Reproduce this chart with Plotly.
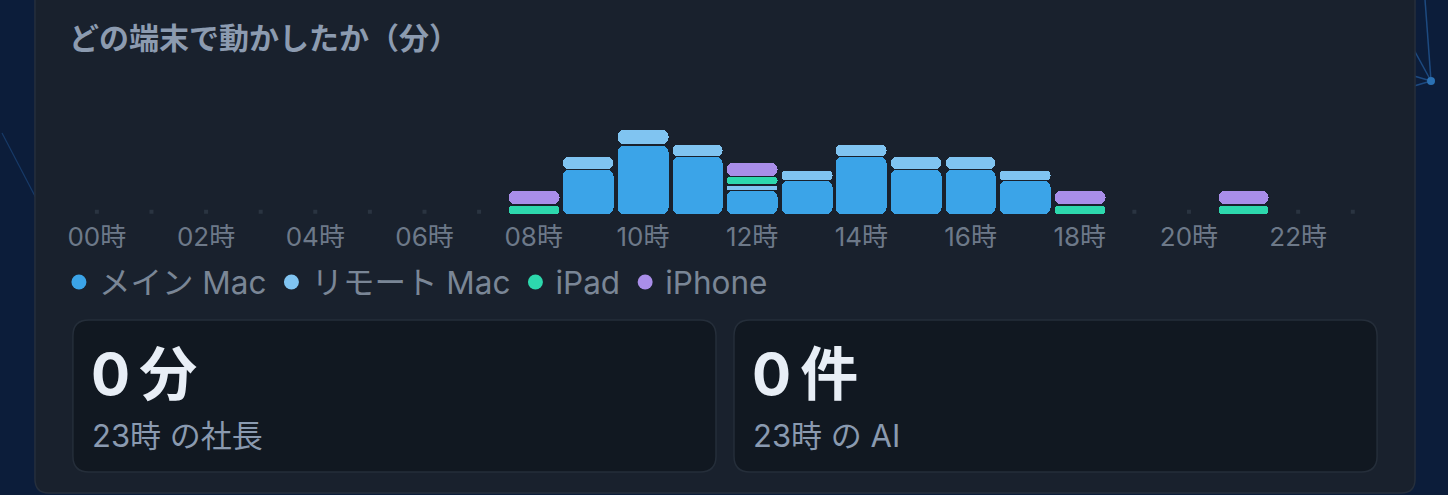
import plotly.graph_objects as go

W, H = 1448, 495

# ---- data (minutes per hour, per device) ----
hours = list(range(24))
hour_labels = [f"{h:02d}時" for h in range(0, 24, 2)]
hour_ticks = list(range(0, 24, 2))
devices = ["メイン Mac", "リモート Mac", "iPad", "iPhone"]
colors = ["#3ba4e8", "#80c4f1", "#2dd8ad", "#a98ee9"]
main_mac   = [0, 0, 0, 0, 0, 0, 0, 0, 0, 32, 49, 41, 17, 24, 41, 32, 32, 24, 0, 0, 0, 0, 0, 0]
remote_mac = [0, 0, 0, 0, 0, 0, 0, 0, 0,  9, 11,  9,  4,  7,  9,  9,  9,  7, 0, 0, 0, 0, 0, 0]
ipad       = [0, 0, 0, 0, 0, 0, 0, 0, 7,  0,  0,  0,  6,  0,  0,  0,  0,  0, 7, 0, 0, 7, 0, 0]
iphone     = [0, 0, 0, 0, 0, 0, 0, 0, 10, 0,  0,  0, 10,  0,  0,  0,  0,  0, 10, 0, 0, 10, 0, 0]
series = [main_mac, remote_mac, ipad, iphone]
title_text = "どの端末で動かしたか（分）"
stat_values = ["0\u2009分", "0\u2009件"]
stat_labels = ["23時 の社長", "23時 の AI"]

FONT = "Inter, 'Noto Sans CJK JP', sans-serif"

# pixel helpers (figure is drawn with zero margins)
def px(x):
    return x / W

def py(y):
    return 1 - y / H

def rrect(x0, y0, x1, y1, r):
    pts = [
        f"M {px(x0 + r)} {py(y0)}",
        f"L {px(x1 - r)} {py(y0)}",
        f"Q {px(x1)} {py(y0)} {px(x1)} {py(y0 + r)}",
        f"L {px(x1)} {py(y1 - r)}",
        f"Q {px(x1)} {py(y1)} {px(x1 - r)} {py(y1)}",
        f"L {px(x0 + r)} {py(y1)}",
        f"Q {px(x0)} {py(y1)} {px(x0)} {py(y1 - r)}",
        f"L {px(x0)} {py(y0 + r)}",
        f"Q {px(x0)} {py(y0)} {px(x0 + r)} {py(y0)}",
        "Z",
    ]
    return " ".join(pts)

# chart geometry
slot = 54.68
x_left = 95 - slot / 2
x_right = x_left + 24 * slot
base_px, top_px = 214, 120
k = 1.42  # px per minute
y_max = (base_px - top_px) / k
gap = 1.5 / k

fig = go.Figure()

# stacked segments: bars with an explicit base get all four corners rounded
bottoms = [0.0] * 24
for name, vals, col in zip(devices, series, colors):
    xs, bases, sizes = [], [], []
    for h in hours:
        v = vals[h]
        if v > 0:
            xs.append(h)
            bases.append(bottoms[h])
            sizes.append(v - gap)
        bottoms[h] += v
    fig.add_trace(go.Bar(
        x=xs, y=sizes, base=bases, name=name,
        marker=dict(color=col, cornerradius=6, line=dict(width=0)),
        width=0.93, showlegend=False, hoverinfo="skip",
    ))

# placeholder dots for empty hours
totals = [sum(s[h] for s in series) for h in hours]
empty = [h for h in hours if totals[h] == 0]
fig.add_trace(go.Scatter(
    x=empty, y=[1.55] * len(empty), mode="markers",
    marker=dict(symbol="square", size=4, color="#2a3441", line=dict(width=0)),
    showlegend=False, hoverinfo="skip",
))

# legend entries (round dots)
for name, col in zip(devices, colors):
    fig.add_trace(go.Scatter(
        x=[None], y=[None], mode="markers", name=name,
        marker=dict(symbol="circle", size=15, color=col),
    ))

shapes = [
    # background network lines
    dict(type="line", xref="paper", yref="paper", x0=px(0), y0=py(133), x1=px(34), y1=py(198),
         line=dict(color="#173a68", width=1.2), layer="below"),
    dict(type="line", xref="paper", yref="paper", x0=px(1425), y0=py(0), x1=px(1431), y1=py(81),
         line=dict(color="#1d4a80", width=1.5), layer="below"),
    dict(type="line", xref="paper", yref="paper", x0=px(1414), y0=py(50), x1=px(1431), y1=py(81),
         line=dict(color="#1d4a80", width=1.5), layer="below"),
    dict(type="line", xref="paper", yref="paper", x0=px(1414), y0=py(76), x1=px(1431), y1=py(81),
         line=dict(color="#1d4a80", width=1.5), layer="below"),
    dict(type="line", xref="paper", yref="paper", x0=px(1414), y0=py(86), x1=px(1431), y1=py(81),
         line=dict(color="#1d4a80", width=1.5), layer="below"),
    dict(type="circle", xref="paper", yref="paper", x0=px(1427), y0=py(77), x1=px(1435), y1=py(85),
         fillcolor="#2b71b3", line=dict(width=0), layer="below"),
    # card
    dict(type="path", xref="paper", yref="paper", path=rrect(33, -30, 1415, 493, 14),
         fillcolor="#19212d", line=dict(color="#262f3c", width=1.5), layer="below"),
    # stat boxes
    dict(type="path", xref="paper", yref="paper", path=rrect(71, 320, 715, 472, 16),
         fillcolor="#111821", line=dict(color="#252e3a", width=1.5), layer="below"),
    dict(type="path", xref="paper", yref="paper", path=rrect(733, 320, 1377, 472, 16),
         fillcolor="#111821", line=dict(color="#252e3a", width=1.5), layer="below"),
]

annotations = [
    dict(text=f"<b>{title_text}</b>", xref="paper", yref="paper", x=px(65), y=py(38),
         xanchor="left", yanchor="middle", showarrow=False,
         font=dict(family=FONT, size=30, color="#8c9bb0")),
]
for i, (val, lab) in enumerate(zip(stat_values, stat_labels)):
    x0 = 87 if i == 0 else 749
    annotations.append(dict(text=f"<b>{val}</b>", xref="paper", yref="paper", x=px(x0), y=py(374),
                            xanchor="left", yanchor="middle", showarrow=False,
                            font=dict(family=FONT, size=58, color="#e8eef6")))
    annotations.append(dict(text=lab, xref="paper", yref="paper", x=px(x0 + 1), y=py(435),
                            xanchor="left", yanchor="middle", showarrow=False,
                            font=dict(family=FONT, size=31, color="#8a9ab0")))

fig.update_layout(
    width=W, height=H,
    margin=dict(l=0, r=0, t=0, b=0),
    paper_bgcolor="#0c1d3a",
    plot_bgcolor="rgba(0,0,0,0)",
    barmode="overlay",
    bargap=0,
    shapes=shapes,
    annotations=annotations,
    font=dict(family=FONT),
    xaxis=dict(domain=[px(x_left), px(x_right)], range=[-0.5, 23.5],
               tickmode="array", tickvals=hour_ticks, ticktext=hour_labels,
               tickfont=dict(family=FONT, size=26, color="#6d7989"),
               showgrid=False, zeroline=False, showline=False, ticks="",
               ticklabelstandoff=5, fixedrange=True),
    yaxis=dict(domain=[py(base_px), py(top_px)], range=[0, y_max], visible=False,
               showgrid=False, zeroline=False, fixedrange=True),
    legend=dict(orientation="h", x=px(57), y=py(282), xanchor="left", yanchor="middle",
                font=dict(family=FONT, size=31.5, color="#7a8696"),
                bgcolor="rgba(0,0,0,0)", itemwidth=30, tracegroupgap=0),
    showlegend=True,
)

fig.write_html(
    "out.html",
    config={"displayModeBar": False},
    post_script="document.body.style.margin='0';document.body.style.overflow='hidden';",
)
